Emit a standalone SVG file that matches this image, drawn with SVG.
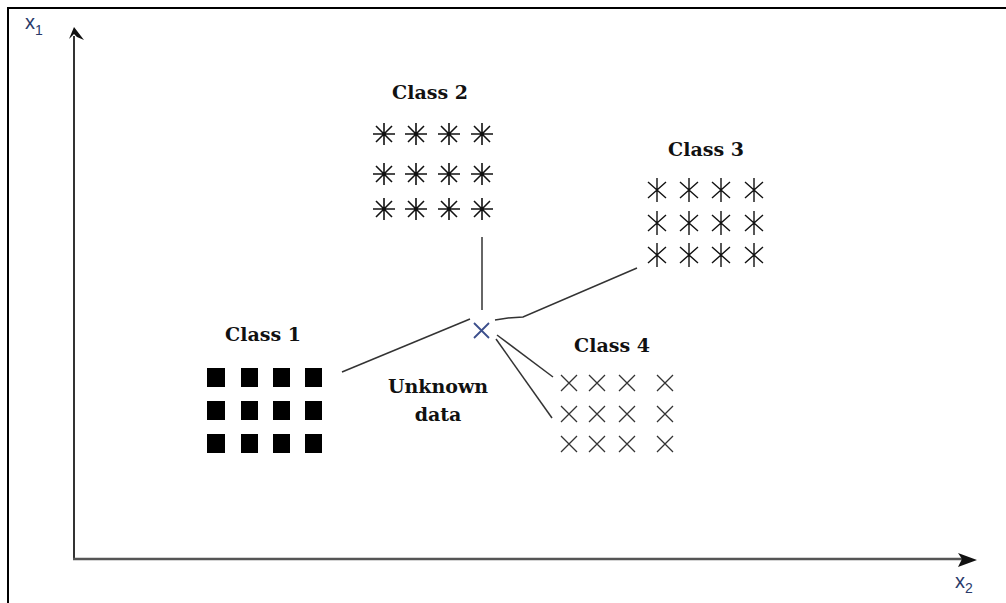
<svg xmlns="http://www.w3.org/2000/svg" width="1006" height="603" viewBox="0 0 1006 603">
<style>
.lbl{font-family:"DejaVu Serif","Liberation Serif",serif;font-weight:bold;font-size:19px;fill:#111;text-anchor:middle}
.ax{font-family:"Liberation Sans",Arial,sans-serif;fill:#2a3a6a}
.conn{stroke:#333;stroke-width:1.5;fill:none}
.sq{fill:#000}
.ast2{stroke:#111;stroke-width:1.6;fill:none}
.ast3{stroke:#111;stroke-width:1.4;fill:none}
.x4{stroke:#333;stroke-width:1.3;fill:none}
</style>
<defs>
<g id="a2"><path d="M-11,0H11M0,-11V11M-8,-8L8,8M-8,8L8,-8"/></g>
<g id="a3"><path d="M0,-12V12M-9,-8L9,8M-9,8L9,-8"/></g>
<g id="x4"><path d="M-8,-8L8,8M-8,8L8,-8"/></g>
</defs>
<rect width="1006" height="603" fill="#fff"/>
<path d="M8,603V8H1006" stroke="#000" stroke-width="2" fill="none"/>
<g id="axes">
<line x1="74" y1="36" x2="74" y2="559" stroke="#333" stroke-width="2"/>
<line x1="73" y1="559" x2="965" y2="559" stroke="#555" stroke-width="2.5"/>
<path d="M74,27L84,40L77,37L74,34L69,39Z" fill="#111"/>
<path d="M977,560L958,553L962,559L958,567Z" fill="#111"/>
<text class="ax" x="25" y="29" font-size="20">x<tspan font-size="14" dy="6">1</tspan></text>
<text class="ax" x="955" y="588" font-size="20">x<tspan font-size="14" dy="5">2</tspan></text>
</g>
<g id="connectors">
<line class="conn" x1="342" y1="372" x2="470" y2="319"/>
<line class="conn" x1="482" y1="237" x2="482" y2="310"/>
<path class="conn" d="M495,320L508,318L523,317L637,268"/>
<line class="conn" x1="497" y1="335" x2="553" y2="377"/>
<line class="conn" x1="496" y1="339" x2="552" y2="418"/>
</g>
<g id="class1">
<text class="lbl" x="263" y="341">Class 1</text>
<rect class="sq" x="207" y="368" width="18" height="19"/>
<rect class="sq" x="241" y="368" width="17" height="19"/>
<rect class="sq" x="273" y="368" width="17" height="19"/>
<rect class="sq" x="305" y="368" width="17" height="19"/>
<rect class="sq" x="207" y="401" width="18" height="19"/>
<rect class="sq" x="241" y="401" width="17" height="19"/>
<rect class="sq" x="273" y="401" width="17" height="19"/>
<rect class="sq" x="305" y="401" width="17" height="19"/>
<rect class="sq" x="207" y="434" width="18" height="19"/>
<rect class="sq" x="241" y="434" width="17" height="19"/>
<rect class="sq" x="273" y="434" width="17" height="19"/>
<rect class="sq" x="305" y="434" width="17" height="19"/>
</g>
<g id="class2">
<text class="lbl" x="430" y="99">Class 2</text>
<g class="ast2">
<use href="#a2" x="384" y="134"/><use href="#a2" x="416" y="134"/><use href="#a2" x="449" y="134"/><use href="#a2" x="482" y="134"/>
<use href="#a2" x="384" y="174"/><use href="#a2" x="416" y="174"/><use href="#a2" x="449" y="174"/><use href="#a2" x="482" y="174"/>
<use href="#a2" x="384" y="209"/><use href="#a2" x="416" y="209"/><use href="#a2" x="449" y="209"/><use href="#a2" x="482" y="209"/>
</g>
</g>
<g id="class3">
<text class="lbl" x="706" y="156">Class 3</text>
<g class="ast3">
<use href="#a3" x="657" y="190"/><use href="#a3" x="689" y="190"/><use href="#a3" x="721" y="190"/><use href="#a3" x="754" y="190"/>
<use href="#a3" x="657" y="223"/><use href="#a3" x="689" y="223"/><use href="#a3" x="721" y="223"/><use href="#a3" x="754" y="223"/>
<use href="#a3" x="657" y="255"/><use href="#a3" x="689" y="255"/><use href="#a3" x="721" y="255"/><use href="#a3" x="754" y="255"/>
</g>
</g>
<g id="class4">
<text class="lbl" x="612" y="352">Class 4</text>
<g class="x4">
<use href="#x4" x="569" y="383"/><use href="#x4" x="597" y="383"/><use href="#x4" x="627" y="383"/><use href="#x4" x="665" y="383"/>
<use href="#x4" x="569" y="414"/><use href="#x4" x="597" y="414"/><use href="#x4" x="627" y="414"/><use href="#x4" x="665" y="414"/>
<use href="#x4" x="569" y="444"/><use href="#x4" x="597" y="444"/><use href="#x4" x="627" y="444"/><use href="#x4" x="665" y="444"/>
</g>
</g>
<g id="unknown">
<path d="M474,323L489,338M474,338L489,323" stroke="#3c4f8c" stroke-width="1.8" fill="none"/>
<text class="lbl" x="438" y="393">Unknown</text>
<text class="lbl" x="438" y="421">data</text>
</g>
</svg>
